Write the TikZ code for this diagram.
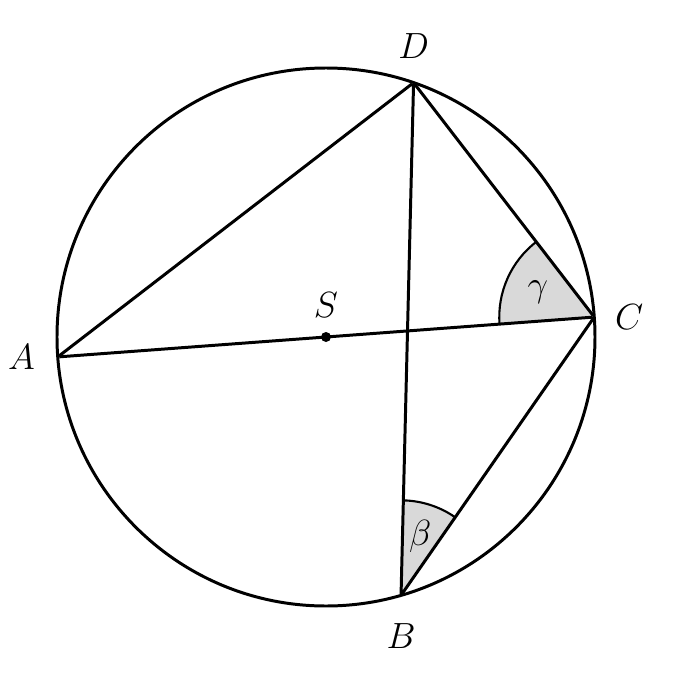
\documentclass[tikz,border=0pt]{standalone}
\usepackage{amsmath}
\usepackage{tikz}
\usetikzlibrary{angles,quotes}
\usetikzlibrary{positioning}

\begin{document}
\begin{tikzpicture}[x=0.02cm,y=0.02cm,line width=1.7pt,
  every node/.style={font=\fontsize{19.5}{22}\selectfont},
  vertex/.style={inner sep=0pt,minimum size=0pt},
  lbl/.style={inner sep=0pt},
  anglemark/.style={draw,line width=1.2pt,fill=gray!30,angle radius=1.9cm,angle eccentricity=0.65,
    pic text options={font=\fontsize{22}{24}\selectfont}}]
  \useasboundingbox (-326,-343) rectangle (374,337);
  \node[vertex] (A) at (184.25:269)[label={[lbl,label distance=0.4cm]left:$A$}]{};
  \node[vertex] (C) at (4.25:269)[label={[lbl,label distance=0.36cm]right:$C$}]{};
  \node[vertex] (D) at (71:269)[label={[lbl,label distance=0.42cm]above:$D$}]{};
  \node[vertex] (B) at (286.2:269)[label={[lbl,label distance=0.5cm]below:$B$}]{};

  \pic[anglemark,"$\gamma$"] {angle=D--C--A};
  \pic[anglemark,"$\beta$"] {angle=C--B--D};

  \draw (0,0) circle (269);
  \draw (A)--(D)--(C)--(B)--(D);
  \draw (A)--(C);
  \node[circle,fill,inner sep=0pt,minimum size=0.2cm] (S) at (0,0)[label={[lbl,label distance=0.24cm]above:$S$}]{};
\end{tikzpicture}
\end{document}
